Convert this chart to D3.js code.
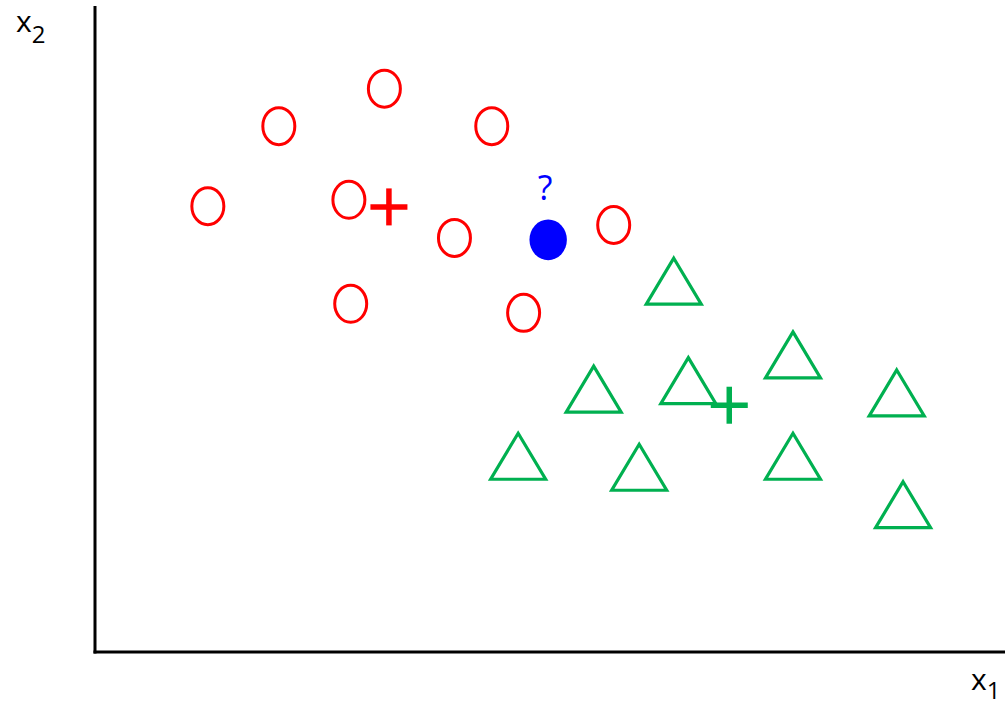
<!DOCTYPE html>
<html>
<head>
<meta charset="utf-8">
<script src="https://cdn.jsdelivr.net/npm/d3@7"></script>
<style>
  html, body { margin: 0; padding: 0; background: #fff; }
  svg { display: block; }
</style>
</head>
<body>
<svg id="chart" width="1005" height="707"></svg>
<script>
// Class A (red circles): [x1, x2]
const classA = [
  [3.18, 8.72], [2.02, 8.14], [4.36, 8.14], [1.24, 6.90], [2.79, 7.00],
  [3.95, 6.41], [5.70, 6.61], [2.81, 5.39], [4.71, 5.25]
];
// Class B (green triangles): [x1, x2]
const classB = [
  [6.36, 5.74], [5.48, 4.07], [6.52, 4.20], [7.67, 4.60], [8.81, 4.01],
  [4.65, 3.03], [5.98, 2.86], [7.67, 3.03], [8.88, 2.28]
];
// class means (plus markers)
const centroids = [
  { name: "A", x: 3.23, y: 6.89 },
  { name: "B", x: 6.97, y: 3.82 }
];
// unknown query point
const query = [[4.98, 6.38]];
const queryLabel = "?";
const xLabel = "x", xSub = "1";
const yLabel = "x", ySub = "2";

const colors = { A: "#ff0000", B: "#00b050", query: "#0000ff", axis: "#000" };

const svg = d3.select("#chart");
const x = d3.scaleLinear().domain([0, 10]).range([95, 1005]);
const y = d3.scaleLinear().domain([0, 10]).range([652, 6]);

// axes (plain lines, no ticks)
svg.append("line").attr("x1", x(0)).attr("x2", x(0)).attr("y1", y(10)).attr("y2", y(0) + 1.5)
  .attr("stroke", colors.axis).attr("stroke-width", 3);
svg.append("line").attr("x1", x(0) - 1.5).attr("x2", x(10)).attr("y1", y(0)).attr("y2", y(0))
  .attr("stroke", colors.axis).attr("stroke-width", 3);

// class A circles
svg.append("g").selectAll("ellipse").data(classA).join("ellipse")
  .attr("cx", d => x(d[0])).attr("cy", d => y(d[1]))
  .attr("rx", 16).attr("ry", 18.5)
  .attr("fill", "none").attr("stroke", colors.A).attr("stroke-width", 3);

// class B triangles
const tw = 55, th = 46;
svg.append("g").selectAll("path").data(classB).join("path")
  .attr("d", d => {
    const cx = x(d[0]), cy = y(d[1]);
    return `M${cx},${cy - th / 2}L${cx + tw / 2},${cy + th / 2}L${cx - tw / 2},${cy + th / 2}Z`;
  })
  .attr("fill", "none").attr("stroke", colors.B).attr("stroke-width", 3.2)
  .attr("stroke-linejoin", "miter");

// centroid plus marks
const arm = 18.5, thick = 5.5;
const pg = svg.append("g").selectAll("g").data(centroids).join("g");
pg.append("line")
  .attr("x1", d => x(d.x) - arm).attr("x2", d => x(d.x) + arm)
  .attr("y1", d => y(d.y)).attr("y2", d => y(d.y))
  .attr("stroke", d => colors[d.name]).attr("stroke-width", thick);
pg.append("line")
  .attr("x1", d => x(d.x)).attr("x2", d => x(d.x))
  .attr("y1", d => y(d.y) - arm).attr("y2", d => y(d.y) + arm)
  .attr("stroke", d => colors[d.name]).attr("stroke-width", thick);

// query point
svg.append("g").selectAll("ellipse").data(query).join("ellipse")
  .attr("cx", d => x(d[0])).attr("cy", d => y(d[1]))
  .attr("rx", 18.7).attr("ry", 20.3)
  .attr("fill", colors.query);
svg.append("g").selectAll("text").data(query).join("text")
  .attr("x", d => x(d[0]) - 3).attr("y", d => y(d[1]) - 40)
  .attr("text-anchor", "middle")
  .attr("font-family", "'Open Sans', sans-serif").attr("font-size", 34)
  .attr("fill", colors.query).text(queryLabel);

// axis labels
function axisLabel(px, py, main, sub, subDy) {
  const t = svg.append("text").attr("x", px).attr("y", py)
    .attr("font-family", "'Open Sans', sans-serif").attr("font-size", 30).attr("fill", "#000");
  t.append("tspan").text(main);
  t.append("tspan").attr("dy", subDy).attr("font-size", 24).text(sub);
}
axisLabel(16, 32, yLabel, ySub, 11);
axisLabel(971, 690, xLabel, xSub, 9);
</script>
</body>
</html>
